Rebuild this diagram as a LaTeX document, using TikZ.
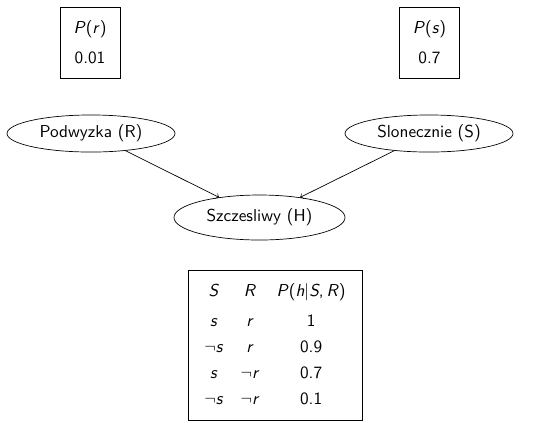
\documentclass[tikz,border=0pt]{standalone}
\usetikzlibrary{shapes.geometric}
\renewcommand{\familydefault}{\sfdefault}
\begin{document}
\begin{tikzpicture}[x=0.58pt,y=-0.58pt,every text node part/.style={align=center},
	prior/.style={draw,minimum width=34.8pt,minimum height=41.2pt,inner sep=0pt},
	event/.style={draw,ellipse,minimum width=97.4pt,minimum height=21.5pt,inner sep=0pt}]
		\useasboundingbox (0,0) rectangle (553,422);
		%priors
		\node[prior] (pr) at (90,42.5) {\textit{P}(\textit{r})\\[5.5pt]0.01};
		\node[prior] (ps) at (429.5,42.5) {\textit{P}(\textit{s})\\[5.5pt]0.7};
		
		%events
		\node[event] (raise) at (91,133.5) {Podwyzka (R)};
		\node[event] (sunny) at (429,133.5) {Slonecznie (S)};
		\node[event,minimum width=99.2pt,minimum height=26.1pt] (happy) at (259.5,217.5) {Szczesliwy (H)};
		\draw[->] (raise) -- (happy);
		\draw[->] (sunny) -- (happy);
		
		%conditional table
		\node[draw,minimum width=100.9pt,minimum height=87pt,inner sep=0pt] (cpt) at (275,345) {%
			\setlength{\tabcolsep}{5pt}\renewcommand{\arraystretch}{1.25}%
			\begin{tabular}{ccc}
				\textit{S} & \textit{R} & \textit{P}(\textit{h}|\textit{S},\,\textit{R})\\[2.5pt]
				\textit{s} & \textit{r} & 1\\
				$\neg$\textit{s} & \textit{r} & 0.9\\
				\textit{s} & $\neg$\textit{r} & 0.7\\
				$\neg$\textit{s} & $\neg$\textit{r} & 0.1
			\end{tabular}};
		
		\end{tikzpicture}
\end{document}
